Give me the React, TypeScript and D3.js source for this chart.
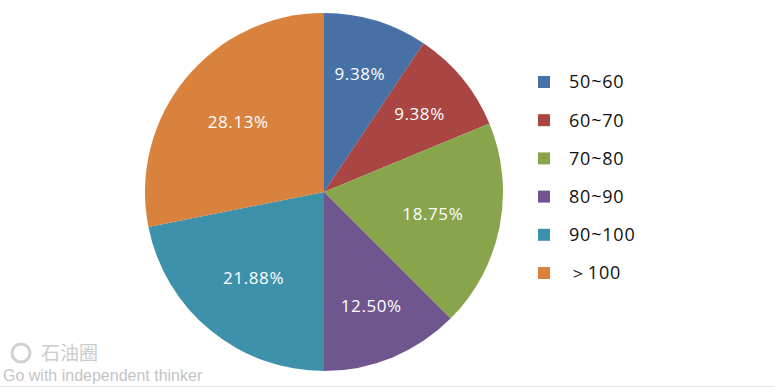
import React from "react";
import * as d3 from "d3";

const categories = ["50~60", "60~70", "70~80", "80~90", "90~100", "＞100"];
const values = [9.38, 9.38, 18.75, 12.5, 21.88, 28.13];
const labels = ["9.38%", "9.38%", "18.75%", "12.50%", "21.88%", "28.13%"];
const colors = ["#4670a6", "#a94643", "#88a54c", "#70568e", "#3e91aa", "#d8823d"];

export default function App() {
  const W = 775, H = 388;
  const cx = 324, cy = 192, r = 179;
  const pie = d3.pie<number>().sort(null).value((d) => d)(values);
  const arc = d3.arc<d3.PieArcDatum<number>>().innerRadius(0).outerRadius(r);
  const labelPos = (p: d3.PieArcDatum<number>) => {
    const f = p.value > 15 ? 0.62 : 0.69;
    const a = (p.startAngle + p.endAngle) / 2;
    return [Math.sin(a) * r * f, -Math.cos(a) * r * f];
  };
  const legendY = d3.scaleLinear().domain([0, 5]).range([82, 273]);
  return (
    <svg width={W} height={H} style={{ position: "absolute", left: 0, top: 0 }}
      fontFamily="'Open Sans', 'DejaVu Sans', sans-serif">
      <rect width={W} height={H} fill="#ffffff" />
      <g transform={`translate(${cx},${cy})`}>
        {pie.map((p, i) => (
          <path key={i} d={arc(p) || ""} fill={colors[i]} stroke="none" />
        ))}
        {pie.map((p, i) => {
          const [x, y] = labelPos(p);
          return (
            <text key={i} x={x} y={y} dy="0.35em" textAnchor="middle" fill="#ffffff"
              fontSize={17} letterSpacing={0.6}>
              {labels[i]}
            </text>
          );
        })}
      </g>
      <g>
        {categories.map((c, i) => (
          <g key={i} transform={`translate(0,${legendY(i)})`}>
            <rect x={538} y={-6} width={12} height={12} fill={colors[i]} />
            <text x={569} y={0} dy="0.35em" fontSize={18} letterSpacing={0.8} fill="#111">{c}</text>
          </g>
        ))}
      </g>
      <g>
        <circle cx={21} cy={353} r={9} fill="none" stroke="#d0d0d0" strokeWidth={3} />
        <text x={41} y={360} fontSize={19} fontFamily="'Noto Sans CJK SC', sans-serif" fill="#cccccc">石油圈</text>
        <text x={3} y={381} fontSize={16} fill="#c4c4c4" fontFamily="'Liberation Sans', sans-serif">Go with independent thinker</text>
      </g>
      <line x1={0} x2={W} y1={386.5} y2={386.5} stroke="#e6e6e6" />
    </svg>
  );
}
